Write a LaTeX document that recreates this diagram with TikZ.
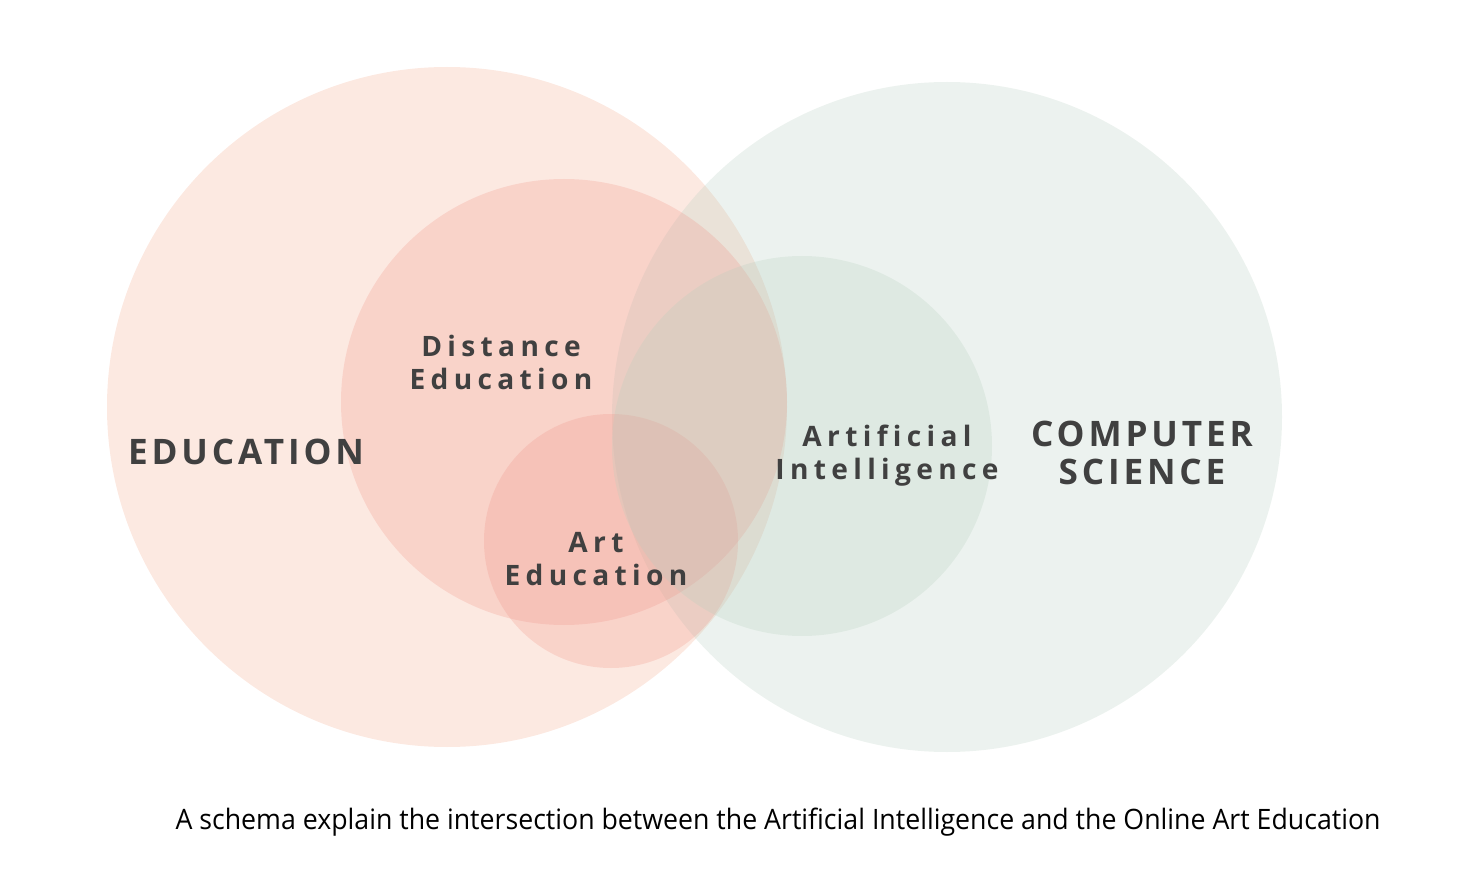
\documentclass[tikz,border=0pt]{standalone}
\usepackage{fontspec}
\setmainfont{Open Sans}
\newfontfamily\bigfont[LetterSpace=11,Ligatures=NoCommon]{Open Sans}
\newfontfamily\labelfont[LetterSpace=19,Ligatures=NoCommon]{Open Sans}
\newfontfamily\capfont[FakeStretch=0.95]{Open Sans}
\definecolor{peach}{RGB}{244,166,136}
\definecolor{rose}{RGB}{240,145,132}
\definecolor{sage}{RGB}{180,205,190}
\definecolor{ink}{RGB}{64,64,64}
\tikzset{
  disc/.style={fill opacity=0.25},
  bigLabel/.style={text=ink, align=center, font=\bigfont\bfseries\fontsize{20}{21.6}\selectfont},
  smallLabel/.style={text=ink, align=center, font=\labelfont\bfseries\fontsize{16}{18.8}\selectfont}
}

\begin{document}
\begin{tikzpicture}[x=0.02cm,y=0.02cm]
      \useasboundingbox (0,0) rectangle (1465,894);

      % 1. 圓心
      \coordinate (E) at (447,487);
      \coordinate (C) at (947,477);
      \coordinate (D) at (564,492);
      \coordinate (A) at (611,353);
      \coordinate (I) at (802,448);

      % 2. 兩個大圓
      \fill[peach, disc] (E) circle (340);
      \fill[sage, disc] (C) circle (335);

      % 3. 三個小圓
      \fill[rose, disc] (D) circle (223);
      \fill[rose, disc] (A) circle (127);
      \fill[sage, disc] (I) circle (190);

      % 4. 文字
      \node[bigLabel] (edu) at (246,442) {EDUCATION};
      \node[bigLabel] (cs) at (1142,441) {COMPUTER\\SCIENCE};
      \node[smallLabel] (dist) at (501,532) {Distance\\Education};
      \node[smallLabel] (art) at (596,335) {Art\\Education};
      \node[smallLabel] (ai) at (887,438) {Artificial\\Intelligence};
      \node[font=\capfont\fontsize{16}{19}\selectfont] (cap) at (778,72)
        {A schema explain the intersection between the Artificial Intelligence and the Online Art Education};
\end{tikzpicture}
\end{document}
